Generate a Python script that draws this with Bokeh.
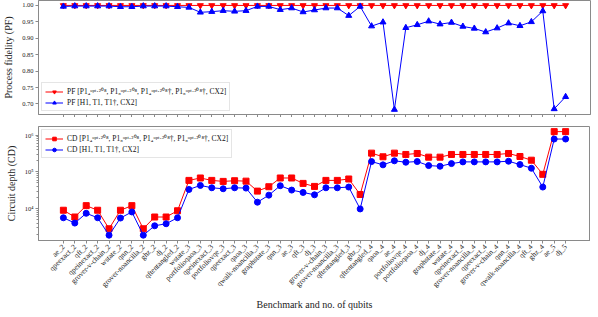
import math
from bokeh.plotting import figure
from bokeh.models import Range1d, FixedTicker, PrintfTickFormatter, ColumnDataSource, CustomJSTickFormatter
from bokeh.layouts import column
from bokeh.embed import file_html
from bokeh.resources import INLINE

benchmarks = ["ae_2", "qpeexact_2", "qft_2", "qpeinexact_2", "grover-v-chain_2", "wstate_2", "qnn_2",
              "grover-noancilla_2", "ghz_2", "dj_2", "qftentangled_2", "wstate_3", "portfolioqaoa_3",
              "qpeinexact_3", "portfoliovqe_3", "qpeexact_3", "qaoa_3", "qwalk-noancilla_3", "graphstate_3",
              "qnn_3", "ae_3", "qft_3", "dj_3", "grover-v-chain_3", "grover-noancilla_3", "qftentangled_3",
              "ghz_3", "qftentangled_4", "qaoa_4", "ae_4", "portfoliovqe_4", "portfolioqaoa_4", "dj_4",
              "graphstate_4", "wstate_4", "qpeinexact_4", "grover-noancilla_4", "qpeexact_4",
              "grover-v-chain_4", "qnn_4", "qwalk-noancilla_4", "qft_4", "ghz_4", "ae_5", "dj_5"]

pf_opt = [1.000, 1.000, 1.000, 1.000, 1.000, 1.000, 1.000, 1.000, 1.000, 1.000,
          1.000, 1.000, 1.000, 1.000, 1.000, 1.000, 1.000, 1.000, 1.000, 1.000,
          1.000, 1.000, 1.000, 1.000, 1.000, 1.000, 1.000, 1.000, 1.000, 1.000,
          1.000, 1.000, 1.000, 1.000, 1.000, 1.000, 1.000, 1.000, 1.000, 1.000,
          1.000, 1.000, 1.000, 1.000, 1.000]
pf_std = [0.997, 0.998, 0.998, 0.998, 0.998, 0.996, 0.996, 0.998, 0.998, 0.998,
          0.996, 0.994, 0.979, 0.981, 0.984, 0.982, 0.984, 0.997, 0.997, 0.987,
          0.992, 0.980, 0.986, 0.992, 0.992, 0.969, 0.997, 0.937, 0.949, 0.683,
          0.932, 0.941, 0.952, 0.943, 0.948, 0.936, 0.930, 0.919, 0.931, 0.946,
          0.938, 0.950, 0.983, 0.685, 0.722]

cd_opt = [8980, 5870, 12000, 8980, 2800, 8980, 12000, 2800, 5870, 5870,
          8700, 58700, 68300, 58700, 55100, 57500, 56000, 29900, 39400, 68300,
          68300, 48600, 40200, 58700, 58700, 64100, 24200, 326000, 259000, 326000,
          300000, 319000, 253000, 253000, 300000, 300000, 300000, 300000, 300000, 319000,
          264000, 209000, 85900, 1260000, 1260000]
cd_std = [5600, 4010, 7420, 5600, 1870, 5500, 8060, 1870, 3380, 3840,
          5600, 33200, 42800, 36900, 34700, 36900, 36200, 14900, 23200, 42000,
          31900, 27500, 23700, 36900, 36900, 38600, 9750, 192000, 156000, 201000,
          184000, 192000, 149000, 143000, 169000, 188000, 188000, 188000, 188000, 196000,
          159000, 126000, 38600, 791000, 791000]

pf_ticks = [0.70, 0.75, 0.80, 0.85, 0.90, 0.95, 1.00]
cd_ticks = [10000, 100000, 1000000]
cd_tick_labels = ["10\u2074", "10\u2075", "10\u2076"]

label_opt = "[P1\u2084\u1d52\u1d56\u1d57\u00b7\u00b2\u2070\u2078, P1\u2088\u1d52\u1d56\u1d57\u00b7\u00b2\u2070\u2078, P1\u2084\u1d52\u1d56\u1d57\u00b7\u00b2\u2070\u2078\u2020, P1\u2088\u1d52\u1d56\u1d57\u00b7\u00b2\u2070\u2078\u2020, CX2]"
label_std = "[H1, T1, T1\u2020, CX2]"

SERIF = "Liberation Serif"
GRAY = "#8a8a8a"
idx = list(range(len(benchmarks)))
src = ColumnDataSource(dict(x=idx, pf_opt=pf_opt, pf_std=pf_std, cd_opt=cd_opt, cd_std=cd_std))

x_range = Range1d(-2.18, len(benchmarks) - 1 + 2.18)


def style(p):
    p.outline_line_color = GRAY
    p.outline_line_width = 1
    p.xgrid.visible = False
    p.ygrid.visible = False
    for ax in p.axis:
        ax.axis_line_color = GRAY
        ax.major_tick_line_color = GRAY
        ax.minor_tick_line_color = GRAY
        ax.major_tick_in = 0
        ax.major_tick_out = 3
        ax.minor_tick_in = 0
        ax.minor_tick_out = 2
        ax.major_label_text_font = SERIF
        ax.major_label_text_font_size = "6.5px"
        ax.major_label_text_color = "#222222"
        ax.axis_label_text_font = SERIF
        ax.axis_label_text_font_style = "normal"
        ax.axis_label_text_font_size = "10px"
        ax.axis_label_text_color = "#222222"
        ax.major_label_standoff = 2


def style_legend(p, loc):
    lg = p.legend[0]
    lg.location = loc
    lg.label_text_font = SERIF
    lg.label_text_font_size = "7.5px"
    lg.label_text_color = "#111111"
    lg.label_height = 9
    lg.glyph_height = 9
    lg.glyph_width = 18
    lg.spacing = 2
    lg.padding = 3
    lg.margin = 3
    lg.border_line_color = "#cccccc"
    lg.background_fill_alpha = 0.85
    lg.label_standoff = 4


p1 = figure(frame_width=552, frame_height=114, x_range=x_range, y_range=Range1d(0.668, 1.015),
            output_backend="svg", toolbar_location=None,
            min_border_left=30, min_border_right=2, min_border_top=0, min_border_bottom=2)
p1.line("x", "pf_opt", source=src, color="red", line_width=1, legend_label="PF " + label_opt)
p1.scatter("x", "pf_opt", source=src, marker="inverted_triangle", size=6, color="red",
           legend_label="PF " + label_opt)
p1.line("x", "pf_std", source=src, color="blue", line_width=1, legend_label="PF " + label_std)
p1.scatter("x", "pf_std", source=src, marker="triangle", size=6, color="blue",
           legend_label="PF " + label_std)
p1.yaxis.ticker = FixedTicker(ticks=pf_ticks)
p1.yaxis.formatter = PrintfTickFormatter(format="%.2f")
p1.yaxis.axis_label = "Process fidelity (PF)"
p1.xaxis.ticker = FixedTicker(ticks=idx)
style(p1)
p1.xaxis.formatter = CustomJSTickFormatter(code="return ''")
p1.xaxis.major_label_standoff = 0
style_legend(p1, "bottom_left")

p2 = figure(frame_width=552, frame_height=114, x_range=x_range, y_axis_type="log", y_range=Range1d(1340, 1.74e6),
            output_backend="svg", toolbar_location=None,
            min_border_left=30, min_border_right=2, min_border_top=9, min_border_bottom=0)
p2.line("x", "cd_opt", source=src, color="red", line_width=1, legend_label="CD " + label_opt)
p2.scatter("x", "cd_opt", source=src, marker="square", size=6, color="red",
           legend_label="CD " + label_opt)
p2.line("x", "cd_std", source=src, color="blue", line_width=1, legend_label="CD " + label_std)
p2.scatter("x", "cd_std", source=src, marker="circle", size=6, color="blue",
           legend_label="CD " + label_std)
minor = [m * d for d in (1000, 10000, 100000, 1000000) for m in range(2, 10)]
p2.yaxis.ticker = FixedTicker(ticks=cd_ticks, minor_ticks=minor)
p2.yaxis.major_label_overrides = {t: s for t, s in zip(cd_ticks, cd_tick_labels)}
p2.yaxis.axis_label = "Circuit depth (CD)"
p2.xaxis.ticker = FixedTicker(ticks=idx)
p2.xaxis.major_label_overrides = {i: b for i, b in zip(idx, benchmarks)}
p2.xaxis.major_label_orientation = math.pi / 4
p2.xaxis.axis_label = "Benchmark and no. of qubits"
style(p2)
p2.xaxis.major_label_text_font_size = "7.5px"
p2.xaxis.axis_label_standoff = 4
style_legend(p2, "top_left")

layout = column(p1, p2, spacing=0)
open("out.html", "w").write(file_html(layout, INLINE))
